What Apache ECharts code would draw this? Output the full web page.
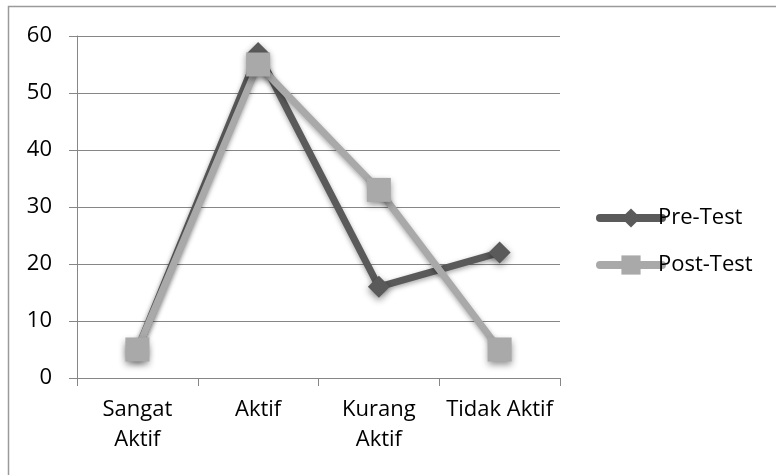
<!DOCTYPE html>
<html>
<head>
<meta charset="utf-8">
<script src="https://cdn.jsdelivr.net/npm/echarts@6/dist/echarts.min.js"></script>
<style>
  html, body { margin: 0; padding: 0; background: #fff; }
  #chart { width: 776px; height: 475px; }
</style>
</head>
<body>
<div id="chart"></div>
<script>
// Activity levels on the category axis
const categories = ['Sangat\nAktif', 'Aktif', 'Kurang\nAktif', 'Tidak Aktif'];
// Values per series
const preTest = [5, 57, 16, 22];
const postTest = [5, 55, 33, 5];
// Value axis range
const yMin = 0, yMax = 60, yStep = 10;

const fontFamily = '"Open Sans", Lato, sans-serif';
const fontSize = 22;

const chart = echarts.init(document.getElementById('chart'), null, { renderer: 'canvas' });

function lineSeries(name, data, color, symbol, size) {
  return {
    name: name,
    type: 'line',
    data: data,
    symbol: symbol,
    symbolSize: size,
    lineStyle: {
      color: color, width: 7, cap: 'round', join: 'round',
      shadowColor: 'rgba(0,0,0,0.35)', shadowBlur: 5, shadowOffsetY: 2
    },
    itemStyle: {
      color: color, borderWidth: 0,
      shadowColor: 'rgba(0,0,0,0.45)', shadowBlur: 7, shadowOffsetY: 3
    },
    emphasis: { disabled: true },
    animation: false,
    z: name === 'Pre-Test' ? 2 : 3
  };
}

chart.setOption({
  backgroundColor: '#ffffff',
  animation: false,
  graphic: [{
    type: 'rect',
    shape: { x: 8.5, y: 6.5, width: 800, height: 500 },
    style: { fill: 'none', stroke: '#9a9a9a', lineWidth: 1.5 },
    silent: true
  }],
  grid: { left: 77, right: 216, top: 36, bottom: 97, containLabel: false },
  legend: {
    orient: 'vertical',
    left: 591,
    top: 202,
    itemGap: 25,
    itemWidth: 62,
    itemHeight: 24,
    lineStyle: { width: 8, cap: 'round' },
    itemStyle: { shadowBlur: 0, shadowOffsetY: 0 },
    textStyle: {
      fontFamily: fontFamily, fontSize: fontSize, lineHeight: 22,
      color: '#000', padding: [0, 0, 0, -9]
    },
    data: [
      { name: 'Pre-Test' },
      { name: 'Post-Test' }
    ]
  },
  xAxis: {
    type: 'category',
    data: categories,
    boundaryGap: true,
    axisLine: { show: true, lineStyle: { color: '#868686', width: 1 } },
    axisTick: { show: true, length: 8, lineStyle: { color: '#868686' } },
    axisLabel: {
      fontFamily: fontFamily, fontSize: fontSize, color: '#000',
      margin: 17, lineHeight: 30, interval: 0
    },
    splitLine: { show: false }
  },
  yAxis: {
    type: 'value',
    min: yMin, max: yMax, interval: yStep,
    axisLine: { show: true, lineStyle: { color: '#868686', width: 1 } },
    axisTick: { show: true, length: 8, lineStyle: { color: '#868686' } },
    axisLabel: { fontFamily: fontFamily, fontSize: fontSize, color: '#000', margin: 25 },
    splitLine: { show: true, lineStyle: { color: '#868686', width: 1 } }
  },
  series: [
    lineSeries('Pre-Test', preTest, '#5a5a5a', 'diamond', 22),
    lineSeries('Post-Test', postTest, '#a9a9a9', 'rect', 24)
  ]
});
</script>
</body>
</html>
